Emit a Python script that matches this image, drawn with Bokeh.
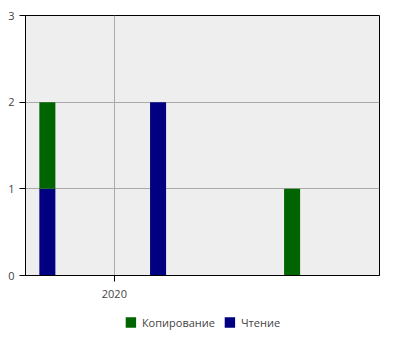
from datetime import datetime, timedelta
from bokeh.plotting import figure
from bokeh.layouts import column
from bokeh.models import ColumnDataSource, Legend, LegendItem, DatetimeTickFormatter, YearsTicker, FixedTicker, Range1d
from bokeh.embed import file_html
from bokeh.resources import INLINE

months = ["2019-10-01", "2020-03-01", "2020-09-01"]
reading = [1, 2, 0]   # Чтение
copying = [1, 0, 1]   # Копирование
series_names = ["Копирование", "Чтение"]
y_ticks = [0, 1, 2, 3]

dates = [datetime.strptime(m, "%Y-%m-%d") for m in months]
src = ColumnDataSource(dict(
    x=dates,
    r_top=reading,
    c_bottom=reading,
    c_top=[a + b for a, b in zip(reading, copying)],
))

xr = Range1d(datetime(2019, 9, 1), datetime(2020, 12, 30))
p = figure(frame_width=354, frame_height=260, x_axis_type="datetime",
           output_backend="svg", toolbar_location=None,
           x_range=xr, y_range=Range1d(0, 3),
           min_border_top=15, min_border_right=21, min_border_left=25,
           min_border_bottom=0)

w = timedelta(days=22)
GREEN = "#006400"
NAVY = "#000080"
p.vbar(x="x", top="r_top", bottom=0, width=w, source=src,
       fill_color=NAVY, line_color=None)
p.vbar(x="x", top="c_top", bottom="c_bottom", width=w, source=src,
       fill_color=GREEN, line_color=None)

p.background_fill_color = "#eeeeee"
p.border_fill_color = "white"
p.outline_line_color = "black"
p.outline_line_width = 1
p.outline_line_alpha = 1

p.xaxis.ticker = YearsTicker()
p.xaxis.formatter = DatetimeTickFormatter(years="%Y", months="%Y", days="%Y")
p.yaxis.ticker = FixedTicker(ticks=y_ticks)
for ax in (p.xaxis, p.yaxis):
    ax.minor_tick_line_color = None
    ax.major_tick_in = 0
    ax.major_tick_out = 6
    ax.axis_line_color = "black"
    ax.major_tick_line_color = "black"
    ax.major_label_text_font = "Open Sans"
    ax.major_label_text_font_size = "11px"
    ax.major_label_text_color = "#444444"
p.xaxis.major_label_standoff = 8
p.xgrid.ticker = YearsTicker()
p.grid.grid_line_color = "#aaaaaa"

# legend strip: same series, drawn off-range so only the legend shows
lf = figure(width=400, height=44, x_axis_type="datetime", x_range=xr,
            y_range=Range1d(100, 101), output_backend="svg",
            toolbar_location=None, min_border=0, min_border_left=6)
lf.axis.visible = False
lf.grid.grid_line_color = None
lf.outline_line_color = None
lf.background_fill_color = "white"
lr = lf.vbar(x="x", top="r_top", bottom=0, width=w, source=src,
             fill_color=NAVY, line_color=None)
lc = lf.vbar(x="x", top="c_top", bottom="c_bottom", width=w, source=src,
             fill_color=GREEN, line_color=None)
legend = Legend(items=[LegendItem(label=series_names[0], renderers=[lc]),
                       LegendItem(label=series_names[1], renderers=[lr])],
                orientation="horizontal", location="center",
                border_line_color=None, background_fill_alpha=0,
                label_text_font="Open Sans", label_text_font_size="11px",
                label_text_color="#444444", glyph_width=13, glyph_height=13,
                label_height=13, spacing=8, label_standoff=5, padding=0,
                margin=0)
lf.add_layout(legend, "center")

layout = column(p, lf, spacing=0)
open("out.html", "w").write(file_html(layout, INLINE))
